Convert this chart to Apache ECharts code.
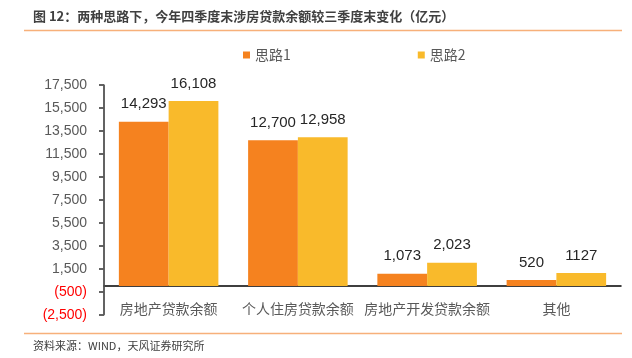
<!DOCTYPE html>
<html>
<head>
<meta charset="utf-8">
<script src="https://cdn.jsdelivr.net/npm/echarts@6/dist/echarts.min.js"></script>
<style>
html,body{margin:0;padding:0;background:#fff;}
#c{width:632px;height:358px;}
</style>
</head>
<body>
<div id="c"></div>
<script>
const categories = ['房地产贷款余额', '个人住房贷款余额', '房地产开发贷款余额', '其他'];
const seriesNames = ['思路1', '思路2'];
const plan1Values = [14293, 12700, 1073, 520];
const plan2Values = [16108, 12958, 2023, 1127];
const plan1Labels = ['14,293', '12,700', '1,073', '520'];
const plan2Labels = ['16,108', '12,958', '2,023', '1127'];
const yTicks = [-2500, -500, 1500, 3500, 5500, 7500, 9500, 11500, 13500, 15500, 17500];
const titleText = '图 12：两种思路下，今年四季度末涉房贷款余额较三季度末变化（亿元）';
const sourceText = '资料来源：WIND，天风证券研究所';

const FONT = '"Liberation Sans", "Noto Sans CJK SC", sans-serif';
const CJK = '"Noto Sans CJK SC", "Liberation Sans", sans-serif';

const Y_MIN = yTicks[0], Y_MAX = yTicks[yTicks.length - 1];
const Y_STEP = yTicks[1] - yTicks[0];
const GRID_LEFT = 104, GRID_TOP = 85, GRID_BOTTOM = 43.3, H = 358;
const gridH = H - GRID_TOP - GRID_BOTTOM;
const zeroOffset = (0 - Y_MIN) / (Y_MAX - Y_MIN) * gridH;

function fmtTick(v) {
  const s = Math.abs(v).toLocaleString('en-US');
  return v < 0 ? '{neg|(' + s + ')}' : '{pos|' + s + '}';
}

const baseGraphics = [
  {type: 'text', left: 33, top: 10, style: {text: titleText, font: 'bold 13px ' + CJK, fill: '#404040'}},
  {type: 'line', shape: {x1: 24, y1: 30.5, x2: 622, y2: 30.5}, style: {stroke: '#F7B07A', lineWidth: 1.5}},
  {type: 'line', shape: {x1: 24, y1: 333.5, x2: 622, y2: 333.5}, style: {stroke: '#F7B07A', lineWidth: 1.5}},
  {type: 'text', left: 33, top: 340, style: {text: sourceText, font: '11px ' + CJK, fill: '#404040'}},
  {type: 'line', z: 10, shape: {x1: GRID_LEFT, y1: GRID_TOP, x2: GRID_LEFT, y2: H - GRID_BOTTOM}, style: {stroke: '#595959', lineWidth: 1.5}}
];

const chart = echarts.init(document.getElementById('c'), null, {renderer: 'canvas'});
chart.setOption({
  animation: false,
  backgroundColor: '#fff',
  color: ['#F5821F', '#F9BA2B'],
  graphic: baseGraphics,
  legend: {
    data: seriesNames,
    left: 238,
    top: 43,
    itemWidth: 7,
    itemHeight: 7,
    itemGap: 127,
    icon: 'rect',
    textStyle: {fontFamily: CJK, fontSize: 14, color: '#595959'}
  },
  grid: {left: GRID_LEFT, right: 11, top: GRID_TOP, bottom: GRID_BOTTOM, containLabel: false},
  xAxis: {
    type: 'category',
    data: categories,
    offset: -zeroOffset,
    axisLine: {onZero: false, lineStyle: {color: '#000', width: 1.5}},
    axisTick: {show: false},
    axisLabel: {fontFamily: CJK, fontSize: 14, color: '#595959', margin: 16, interval: 0}
  },
  yAxis: {
    type: 'value',
    min: Y_MIN,
    max: Y_MAX,
    interval: Y_STEP,
    axisLine: {show: true, onZero: false, lineStyle: {color: '#595959', width: 1.5}},
    axisTick: {show: true, inside: false, length: 5, lineStyle: {color: '#595959', width: 1.5}},
    splitLine: {show: false},
    axisLabel: {
      margin: 17,
      formatter: fmtTick,
      rich: {
        neg: {fontFamily: FONT, fontSize: 14, color: '#FF0000'},
        pos: {fontFamily: FONT, fontSize: 14, color: '#595959'}
      }
    }
  },
  series: [
    {
      name: seriesNames[0], type: 'bar', data: plan1Values,
      barWidth: '38.5%', barGap: '0%',
      label: {show: true, position: 'top', distance: 10, fontFamily: FONT, fontSize: 15, color: '#262626',
        formatter: p => plan1Labels[p.dataIndex]}
    },
    {
      name: seriesNames[1], type: 'bar', data: plan2Values,
      barWidth: '38.5%', barGap: '0%',
      label: {show: true, position: 'top', distance: 10, fontFamily: FONT, fontSize: 15, color: '#262626',
        formatter: p => plan2Labels[p.dataIndex]}
    }
  ]
});

// Tick marks on the vertical axis, positioned via the chart's own y scale.
const tickGraphics = [];
yTicks.forEach(v => {
  let py = chart.convertToPixel({yAxisIndex: 0}, v);
  if (!isFinite(py)) py = GRID_TOP + (Y_MAX - v) / (Y_MAX - Y_MIN) * gridH;
  py = Math.round(py);
  tickGraphics.push({type: 'line', z: 10, shape: {x1: GRID_LEFT - 5, y1: py, x2: GRID_LEFT, y2: py}, style: {stroke: '#595959', lineWidth: 1.5}});
});
chart.setOption({graphic: baseGraphics.concat(tickGraphics)});
</script>
</body>
</html>
